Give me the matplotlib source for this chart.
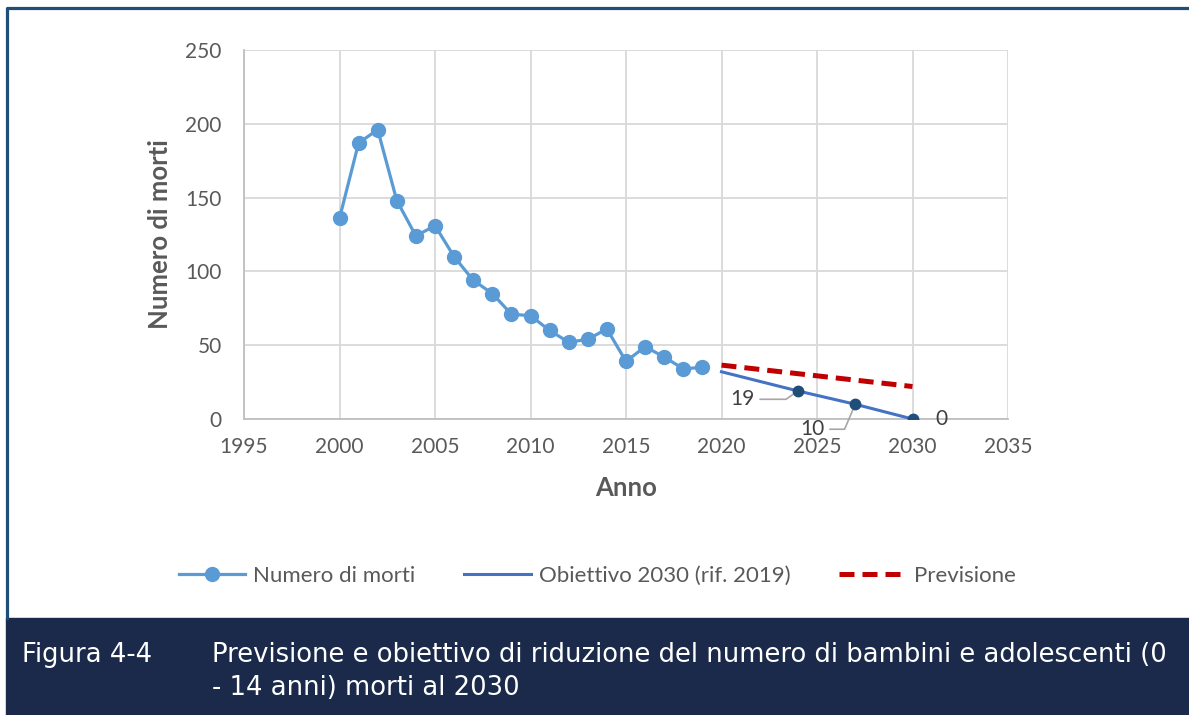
import matplotlib.pyplot as plt
import matplotlib.patches as mpatches
import matplotlib.lines as mlines

anni = list(range(2000, 2020))
morti = [136, 187, 196, 148, 124, 131, 110, 94, 85, 71, 70, 60, 52, 54, 61, 39, 49, 42, 34, 35]

anni_obiettivo = [2020, 2024, 2027, 2030]
obiettivo = [32, 19, 10, 0]

anni_previsione = [2020, 2030]
previsione = [36.5, 22]

plt.rcParams['font.family'] = ['Lato', 'DejaVu Sans']

W, H = 1189, 715
fig = plt.figure(figsize=(W / 100, H / 100), dpi=100)
ax = fig.add_axes([244 / W, 1 - 419 / H, (1008 - 244) / W, (419 - 50) / H])

grigio = '#595959'
ax.plot(anni, morti, color='#5B9BD5', lw=2.3, marker='o', ms=10, label='Numero di morti', zorder=4)
ax.plot(anni_obiettivo, obiettivo, color='#4472C4', lw=2.2, label='Obiettivo 2030 (rif. 2019)', zorder=3)
ax.plot(anni_obiettivo[1:], obiettivo[1:], ls='none', marker='o', ms=7.5, color='#1F4E79', zorder=5)
ax.plot(anni_previsione, previsione, color='#C00000', lw=3.6, ls=(0, (3, 1.6)), label='Previsione', zorder=3)

ax.set_xlim(1995, 2035)
ax.set_ylim(0, 250)
ax.set_xticks(range(1995, 2036, 5))
ax.set_yticks(range(0, 251, 50))
ax.grid(True, color='#D9D9D9', lw=1.3)
ax.set_axisbelow(True)
for s in ['top', 'right']:
    ax.spines[s].set_visible(False)
for s in ['left', 'bottom']:
    ax.spines[s].set_color('#BFBFBF')
    ax.spines[s].set_linewidth(1.3)
ax.tick_params(length=0, labelsize=15, labelcolor=grigio)
ax.tick_params(axis='y', pad=16)
ax.tick_params(axis='x', pad=13)
ax.set_xlabel('Anno', fontsize=18.5, fontweight='bold', color=grigio, labelpad=14)
ax.set_ylabel('Numero di morti', fontsize=18.5, fontweight='bold', color=grigio, labelpad=10)

# etichette obiettivo
kw = dict(fontsize=15, color='#404040', ha='center', va='center', textcoords='offset points')
ax.annotate('19', xy=(anni_obiettivo[1], obiettivo[1]), xytext=(-40, -6),
            arrowprops=dict(arrowstyle='-', color='#A6A6A6', lw=1.2,
                            connectionstyle='angle,angleA=0,angleB=35,rad=0', shrinkB=3), **kw)
ax.annotate('10', xy=(anni_obiettivo[2], obiettivo[2]), xytext=(-31, -18),
            arrowprops=dict(arrowstyle='-', color='#A6A6A6', lw=1.2,
                            connectionstyle='angle,angleA=0,angleB=67,rad=0', shrinkB=3), **kw)
ax.annotate('0', xy=(anni_obiettivo[3], obiettivo[3]), xytext=(21, 0), annotation_clip=False, **kw)

fig.legend(loc='center', bbox_to_anchor=(597 / W, 1 - 576 / H), ncol=3, frameon=False,
           fontsize=16, labelcolor=grigio, handlelength=3.0, columnspacing=2.2, handletextpad=0.35)

# cornice e didascalia
blu = '#1F4E79'
fig.add_artist(mlines.Line2D([7 / W, 7 / W, 1], [1 - 618 / H, 1 - 8 / H, 1 - 8 / H],
                             color=blu, lw=2.3, transform=fig.transFigure))
fig.add_artist(mpatches.Rectangle((6 / W, 0), 1, 1 - 618 / H, color='#1B2A4A',
                                  transform=fig.transFigure, zorder=0))
cap = dict(color='white', fontsize=18.6, family=['DejaVu Sans'], va='center')
fig.text(22 / W, 1 - 655 / H, 'Figura 4-4', **cap)
fig.text(212 / W, 1 - 655 / H, 'Previsione e obiettivo di riduzione del numero di bambini e adolescenti (0', **cap)
fig.text(212 / W, 1 - 688 / H, '- 14 anni) morti al 2030', **cap)

fig.savefig('out.png', dpi=100)
